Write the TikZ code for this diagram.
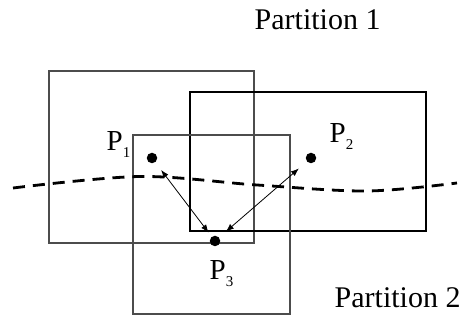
\documentclass[tikz,border=0pt]{standalone}
\usepackage{fontspec}
\setmainfont{Liberation Serif}
\usetikzlibrary{arrows.meta}
\newcommand\psub[1]{\raisebox{-7pt}{\fontsize{15}{15}\selectfont #1}}
\begin{document}
\begin{tikzpicture}[x=1pt,y=-1pt,
  graybox/.style={draw=black!70, line width=1.2pt},
  blackbox/.style={draw=black, line width=1.2pt},
  border/.style={line width=2.8pt, dash pattern=on 12pt off 8pt},
  dot/.style={circle, fill=black, inner sep=0pt, minimum size=10.5pt},
  lbl/.style={inner sep=0pt, anchor=base west, font=\fontsize{29}{29}\selectfont},
  title/.style={inner sep=0pt, anchor=base west, font=\fontsize{30}{30}\selectfont},
  conn/.style={line width=0.8pt, arrows={Latex[length=8pt,width=6pt]-Latex[length=8pt,width=6pt]}}]
\useasboundingbox (0,0) rectangle (467,336);
% partition boxes
\draw[graybox] (49,71) rectangle (254,243);
\draw[blackbox] (190,92) rectangle (426,231);
\draw[graybox] (133,135) rectangle (290,314);
% partition boundary
\draw[border] plot[smooth, tension=0.55] coordinates {(13,188) (140,176.5) (257,185) (367,191) (457,183)};
% points
\node[dot] (p1) at (152,158) {};
\node[dot] (p2) at (311,158) {};
\node[dot] (p3) at (215,241) {};
% labels
\node[lbl] (l1) at (106.5,151) {P\psub{1}};
\node[lbl] (l2) at (329.5,143) {P\psub{2}};
\node[lbl] (l3) at (209.5,280) {P\psub{3}};
\node[title] (t1) at (254.5,30) {Partition 1};
\node[title] (t2) at (334.5,308) {Partition 2};
% connectors
\draw[conn, shorten <=15pt, shorten >=10.6pt] (p1.center) -- (p3.center);
\draw[conn, shorten <=16pt, shorten >=14.4pt] (p2.center) -- (p3.center);
\end{tikzpicture}
\end{document}
